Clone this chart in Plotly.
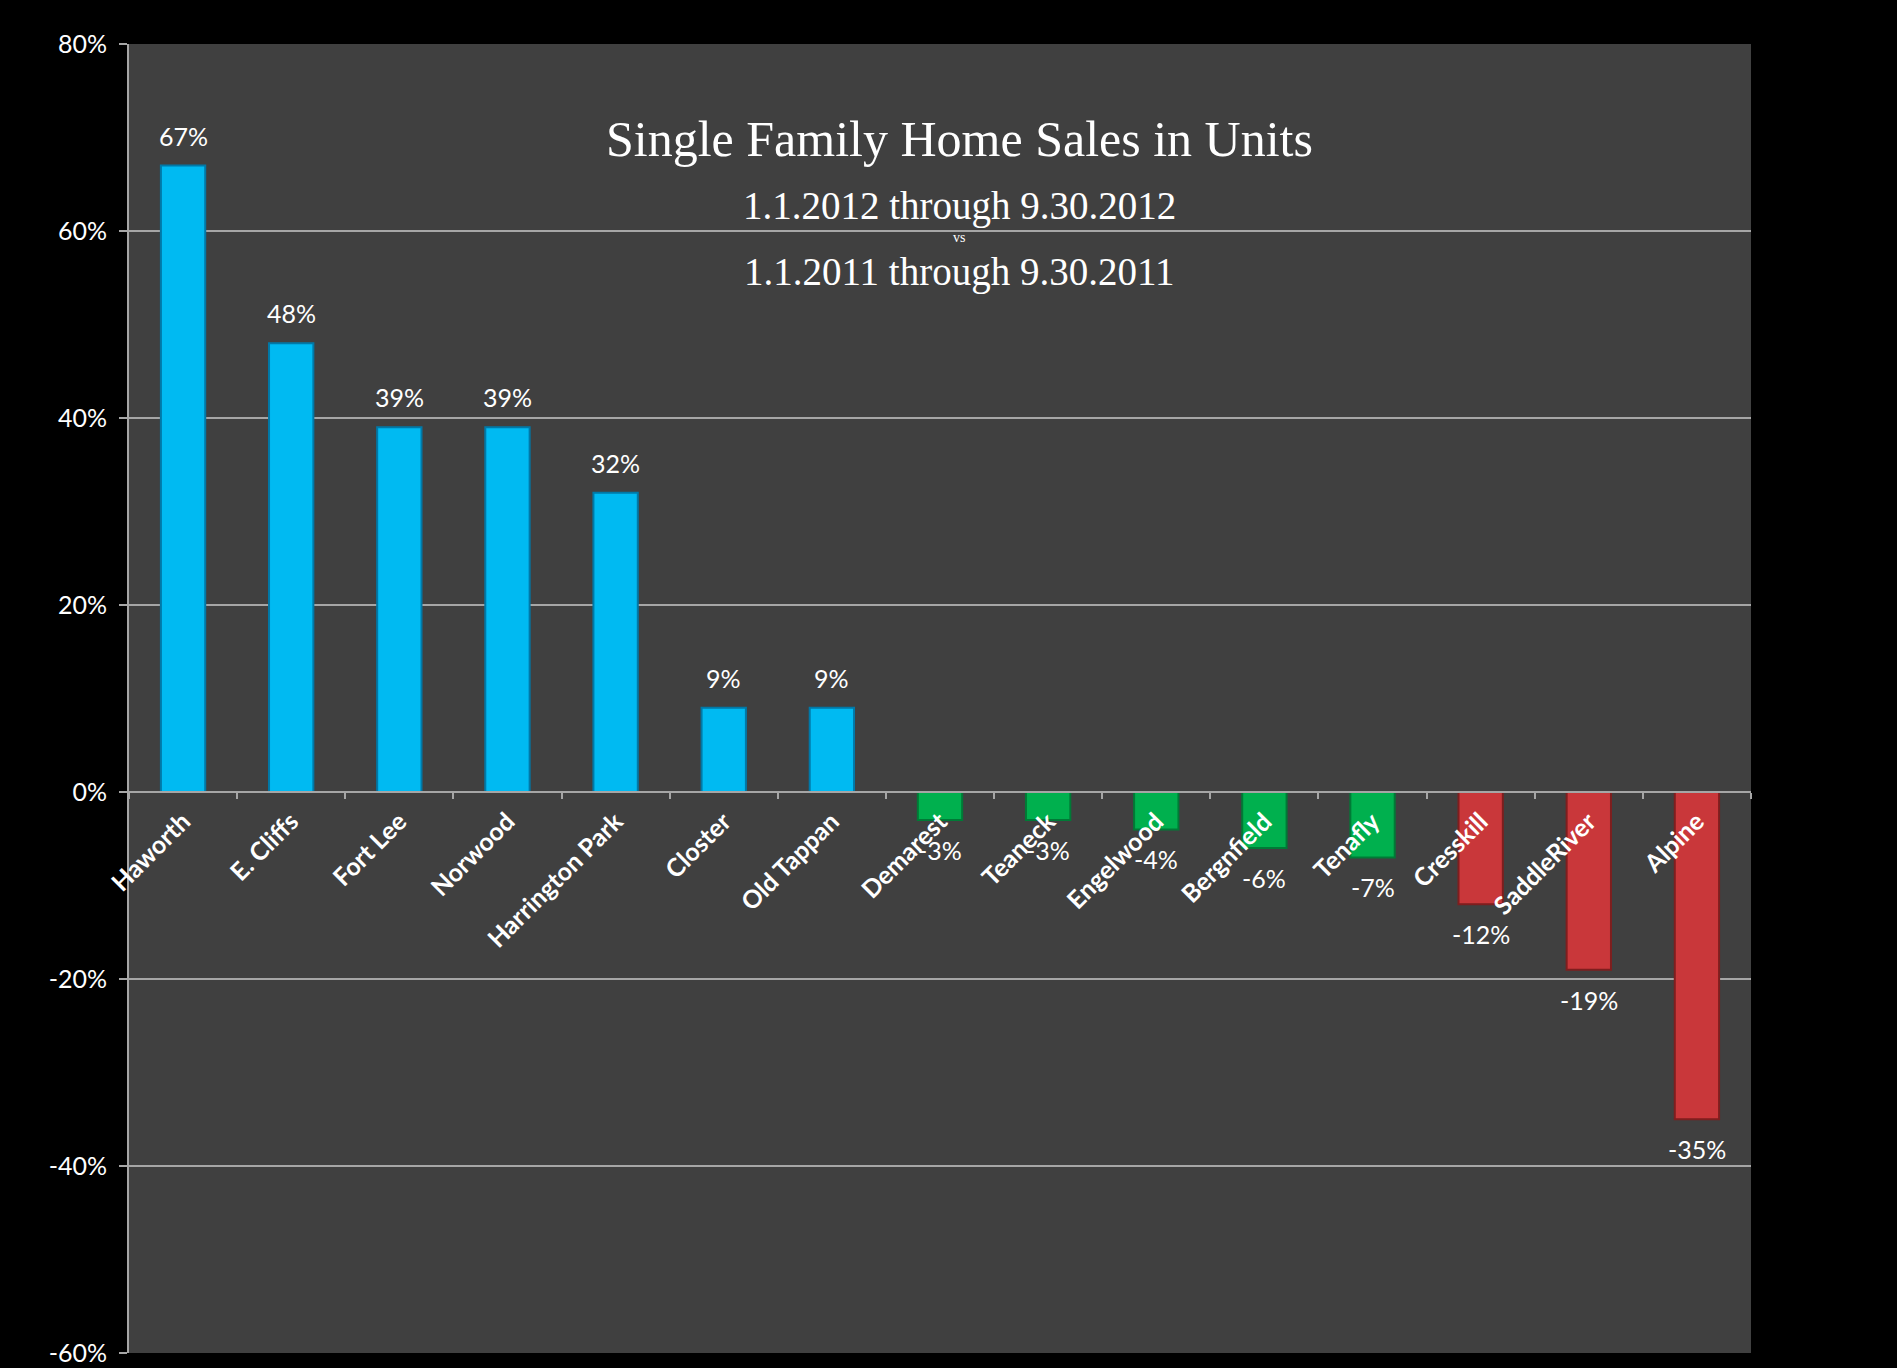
import plotly.graph_objects as go

towns = ["Haworth", "E. Cliffs", "Fort Lee", "Norwood", "Harrington Park", "Closter",
         "Old Tappan", "Demarest", "Teaneck", "Engelwood", "Bergnfield", "Tenafly",
         "Cresskill", "SaddleRiver", "Alpine"]
change_pct = [67, 48, 39, 39, 32, 9, 9, -3, -3, -4, -6, -7, -12, -19, -35]
group = ["up"] * 7 + ["slight"] * 5 + ["down"] * 3

y_ticks = [-60, -40, -20, 0, 20, 40, 60, 80]
y_tick_text = ["-60%", "-40%", "-20%", "0%", "20%", "40%", "60%", "80%"]
y_min, y_max = -60, 80

fill = {"up": "#00BAF2", "slight": "#00B04E", "down": "#C9373A"}
edge = {"up": "#0079A8", "slight": "#007A36", "down": "#7E1E1E"}

fig = go.Figure()
fig.add_trace(go.Bar(
    x=towns, y=change_pct,
    width=0.41,
    marker=dict(color=[fill[g] for g in group],
                line=dict(color=[edge[g] for g in group], width=2)),
    showlegend=False, hoverinfo="x+y",
))

label_annotations = [
    dict(x=t, y=v, xref="x", yref="y", text=f"{v}%", showarrow=False,
         xanchor="center", yanchor="middle", yshift=30 if v >= 0 else -30,
         font=dict(family="Lato", size=25, color="white"))
    for t, v in zip(towns, change_pct)
]

M_T, M_B = 44, 15
H_PLOT = 1368 - M_T - M_B
title_font = "Liberation Serif"
cx = 0.512
title_annotations = [
    dict(text="Single Family Home Sales in Units", xref="paper", yref="paper",
         x=cx, y=(1368 - M_B - 139) / H_PLOT, xanchor="center", yanchor="middle",
         showarrow=False, font=dict(family=title_font, size=50, color="white")),
    dict(text="1.1.2012 through 9.30.2012", xref="paper", yref="paper",
         x=cx, y=(1368 - M_B - 206) / H_PLOT, xanchor="center", yanchor="middle",
         showarrow=False, font=dict(family=title_font, size=39, color="white")),
    dict(text="vs", xref="paper", yref="paper",
         x=cx, y=(1368 - M_B - 238) / H_PLOT, xanchor="center", yanchor="middle",
         showarrow=False, font=dict(family=title_font, size=14, color="white")),
    dict(text="1.1.2011 through 9.30.2011", xref="paper", yref="paper",
         x=cx, y=(1368 - M_B - 272) / H_PLOT, xanchor="center", yanchor="middle",
         showarrow=False, font=dict(family=title_font, size=39, color="white")),
]

fig.update_layout(
    width=1897, height=1368,
    paper_bgcolor="black", plot_bgcolor="#404040",
    margin=dict(l=129, r=146, t=M_T, b=M_B, autoexpand=False),
    bargap=0.59,
    xaxis=dict(
        type="category", anchor="free",
        position=(0 - y_min) / (y_max - y_min),
        automargin=False,
        showline=True, linecolor="#A6A6A6", linewidth=2,
        ticks="outside", tickson="boundaries", ticklen=6, tickcolor="#A6A6A6", tickwidth=2,
        tickangle=-45, tickfont=dict(family="Lato", size=25, color="white", weight="bold"),
        ticklabelstandoff=4,
        showgrid=False,
    ),
    yaxis=dict(
        range=[y_min, y_max], tickvals=y_ticks, ticktext=y_tick_text,
        automargin=False, ticklabeloverflow="allow",
        showgrid=True, gridcolor="#A6A6A6", gridwidth=2,
        zeroline=False,
        showline=True, linecolor="#A6A6A6", linewidth=2,
        ticks="outside", ticklen=8, tickcolor="#A6A6A6", tickwidth=2,
        tickfont=dict(family="Lato", size=25, color="white"),
        ticklabelstandoff=7,
    ),
    annotations=label_annotations + title_annotations,
)

fig.write_html(
    "out.html",
    config={"displayModeBar": False},
    post_script="document.body.style.margin='0';document.body.style.background='black';",
)
